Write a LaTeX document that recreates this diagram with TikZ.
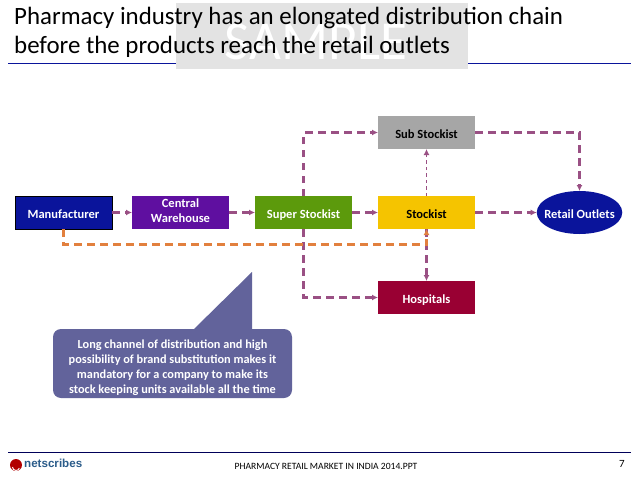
\documentclass[tikz,border=0pt]{standalone}
\usepackage{fontspec}
\setmainfont{Carlito}
\newfontfamily\logofont{Liberation Sans}
\usepackage{xcolor}
\usetikzlibrary{arrows.meta, positioning, shapes.geometric}
\definecolor{navyblue}{HTML}{0A149B}
\definecolor{plumline}{HTML}{9A5084}
\definecolor{orangeline}{HTML}{E2803E}
\definecolor{notefill}{HTML}{62639B}
\definecolor{whfill}{HTML}{5F0FA0}
\definecolor{superfill}{HTML}{5C9A0C}
\definecolor{stockfill}{HTML}{F5C400}
\definecolor{subfill}{HTML}{A6A6A6}
\definecolor{hospfill}{HTML}{990033}
\definecolor{logoblue}{HTML}{2B5C8A}
\newcommand{\boxstrut}{\rule[-3pt]{0pt}{17pt}}

\begin{document}
\begin{tikzpicture}[
    x=1pt, y=-1pt,
    box/.style={minimum width=97pt, minimum height=33pt, inner sep=1pt, outer sep=0pt, align=center, font=\fontsize{12.5}{15}\selectfont\bfseries, text=white, execute at begin node=\boxstrut},
    line/.style={-{Latex[length=6pt,width=6pt]}, plumline, line width=2.1pt, dash pattern=on 7.5pt off 5.5pt},
    feed/.style={line, orangeline}
]
\useasboundingbox (0,0) rectangle (638,479);
\fill[white] (0,0) rectangle (638,479);

% Header
\coordinate (headl) at (8,63);
\coordinate (headr) at (631,63);
\draw[navyblue, line width=1pt] (headl) -- (headr);
\fill[black!11] (176,3) rectangle (468,69);
\node[text=white, inner sep=0pt, font=\fontsize{55}{55}\selectfont] (sample) at (316,42) {SAMPLE};
\node[anchor=north west, inner sep=0pt, align=left, font=\fontsize{24.9}{29}\selectfont] (title) at (14,7) {Pharmacy industry has an elongated distribution chain\\before the products reach the retail outlets};

% Chain
\node[box, fill=navyblue, draw=black, line width=0.8pt] (manufacturer) at (63.5,212.5) {Manufacturer};
\node[box, fill=whfill, right=20pt of manufacturer] (central) {Central\\Warehouse};
\node[box, fill=superfill, right=26pt of central] (super) {Super Stockist};
\node[box, fill=stockfill, text=black, right=26pt of super] (stockist) {Stockist};
\node[box, fill=subfill, text=black, above=47pt of stockist] (sub) {Sub Stockist};
\node[box, fill=hospfill, below=52pt of stockist] (hospitals) {Hospitals};
\node[ellipse, fill=navyblue, minimum width=85pt, minimum height=43pt, inner xsep=-5pt, inner ysep=0pt, outer sep=0pt, text=white, font=\fontsize{12.5}{15}\selectfont\bfseries, execute at begin node=\boxstrut] (retail) at (579.5,212.5) {Retail Outlets};

% Arrows
\draw[line] (manufacturer) -- (central);
\draw[line] (central) -- (super);
\draw[line] (super) -- (stockist);
\draw[line] (stockist) -- (retail);
\draw[line, line width=1.2pt, dash pattern=on 3.5pt off 3pt] (stockist) -- (sub);
\draw[line] (stockist) -- (hospitals);
\draw[line] (super.north) |- (sub.west);
\draw[line] (super.south) |- (hospitals.west);
\draw[line] (sub.east) -| (retail.north);
\draw[feed] (manufacturer.south) -- ++(0,15.5) -| (stockist.south);

% Note
\node[fill=notefill, rounded corners=8pt, minimum width=239pt, minimum height=69pt, inner sep=0pt, outer sep=0pt, align=center, text=white, font=\fontsize{12.3}{15}\selectfont\bfseries] (note) at (172.5,363.5) {\rule{0pt}{17pt}Long channel of distribution and high\\possibility of brand substitution makes it\\mandatory for a company to make its\\stock keeping units available all the time};
\coordinate (apex) at (252,272);
\fill[notefill] (note.north) ++(20.5,1) -- (apex) -- (252,330) -- cycle;

% Footer
\coordinate (footl) at (8,452);
\coordinate (footr) at (631,452);
\draw[black!50!blue!70!black, line width=1pt] (footl) -- (footr);
\fill[red!70!black] (16,465) circle (6);
\draw[white, line width=0.9pt] (12.5,467) arc[start angle=180, end angle=20, radius=3.5];
\node[anchor=west, inner sep=0pt, text=logoblue, font=\logofont\fontsize{11.6}{12}\selectfont\bfseries] (logo) at (24,463.5) {netscribes};
\node[inner sep=0pt, font=\fontsize{9.6}{10}\selectfont] (foot) at (326,466) {PHARMACY RETAIL MARKET IN INDIA 2014.PPT};
\node[inner sep=0pt, font=\fontsize{11}{13}\selectfont] (page) at (622,464) {7};

\end{tikzpicture}
\end{document}
